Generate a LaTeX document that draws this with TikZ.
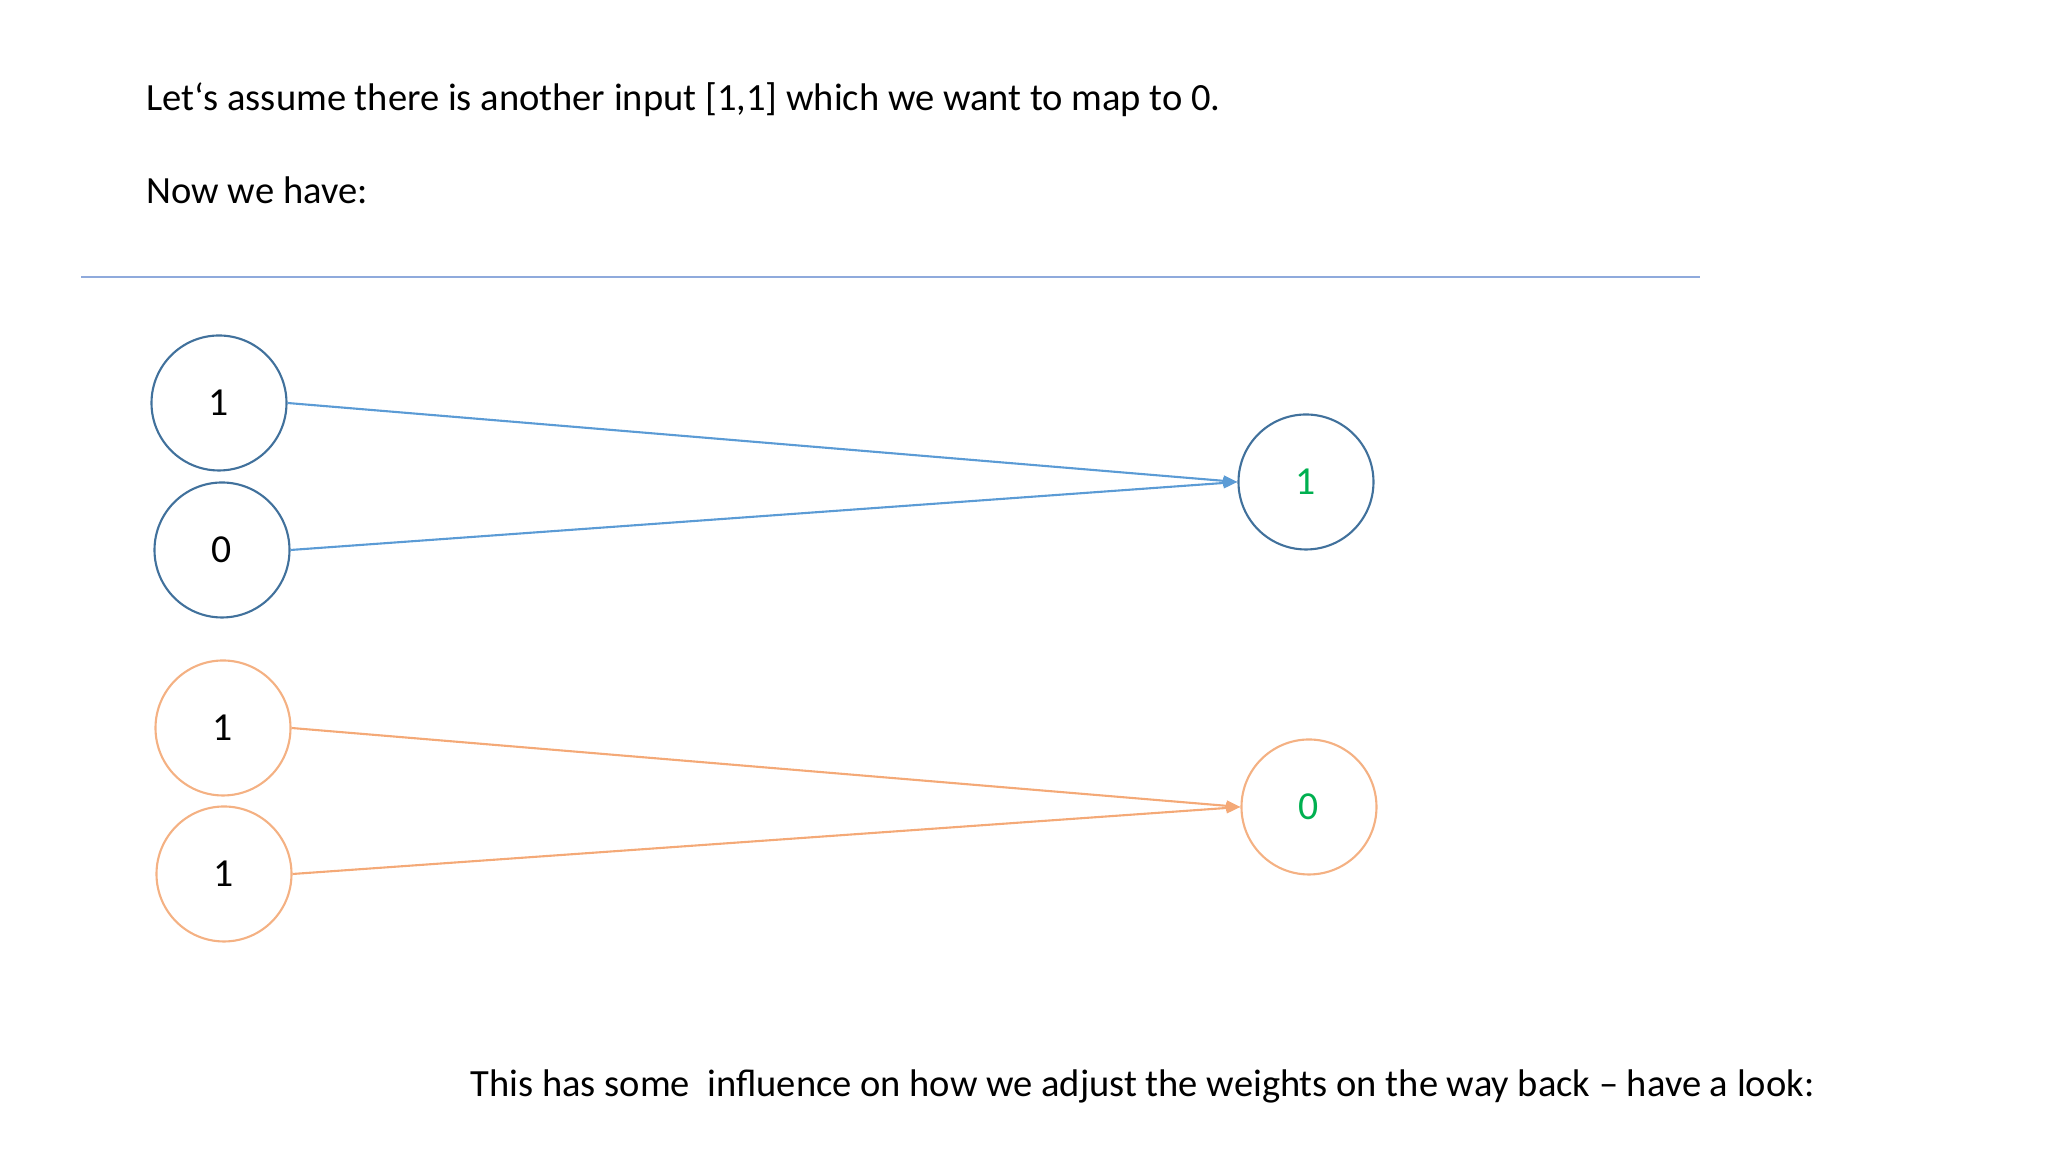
\documentclass[tikz,border=0pt]{standalone}
\usepackage{fontspec}
\setmainfont{Carlito}
\usetikzlibrary{arrows.meta}
\definecolor{bluecirc}{HTML}{41719C}
\definecolor{bluearr}{HTML}{5B9BD5}
\definecolor{orng}{HTML}{F4B183}
\definecolor{orngarr}{HTML}{F4A977}
\definecolor{grn}{HTML}{00B050}
\definecolor{rule}{HTML}{8FAADC}
\begin{document}
\begin{tikzpicture}[
  neuron/.style={circle, minimum size=1.35cm, inner sep=0pt, line width=0.6pt, font=\fontsize{11.3pt}{13pt}\selectfont},
  bneuron/.style={neuron, draw=bluecirc},
  oneuron/.style={neuron, draw=orng},
  barrow/.style={draw=bluearr, line width=0.6pt, -{Triangle[length=4pt,width=3pt]}},
  oarrow/.style={draw=orngarr, line width=0.6pt, -{Triangle[length=4pt,width=3pt]}},
  txt/.style={anchor=west, inner sep=0pt, font=\fontsize{10.96pt}{13pt}\selectfont}
]
\useasboundingbox (0,0) rectangle (20.48,11.52);
\node[txt] (t1) at (1.46,10.52) {Let‘s assume there is another input [1,1] which we want to map to 0.};
\node[txt] (t2) at (1.46,9.62) {Now we have:};
\coordinate (r1) at (0.81,8.75);
\coordinate (r2) at (17.00,8.75);
\draw[rule, line width=0.6pt] (r1) -- (r2);
\node[bneuron] (in1) at (2.19,7.49) {1};
\node[bneuron] (in2) at (2.22,6.02) {0};
\node[bneuron, text=grn] (out1) at (13.06,6.70) {1};
\node[oneuron] (in3) at (2.23,4.24) {1};
\node[oneuron] (in4) at (2.24,2.78) {1};
\node[oneuron, text=grn] (out2) at (13.09,3.45) {0};
\draw[barrow] (in1.east) -- (out1.west);
\draw[barrow] (in2.east) -- (out1.west);
\draw[oarrow] (in3.east) -- (out2.west);
\draw[oarrow] (in4.east) -- (out2.west);
\node[txt] (t3) at (4.70,0.66) {This has some \ influence on how we adjust the weights on the way back – have a look:};
\end{tikzpicture}
\end{document}
